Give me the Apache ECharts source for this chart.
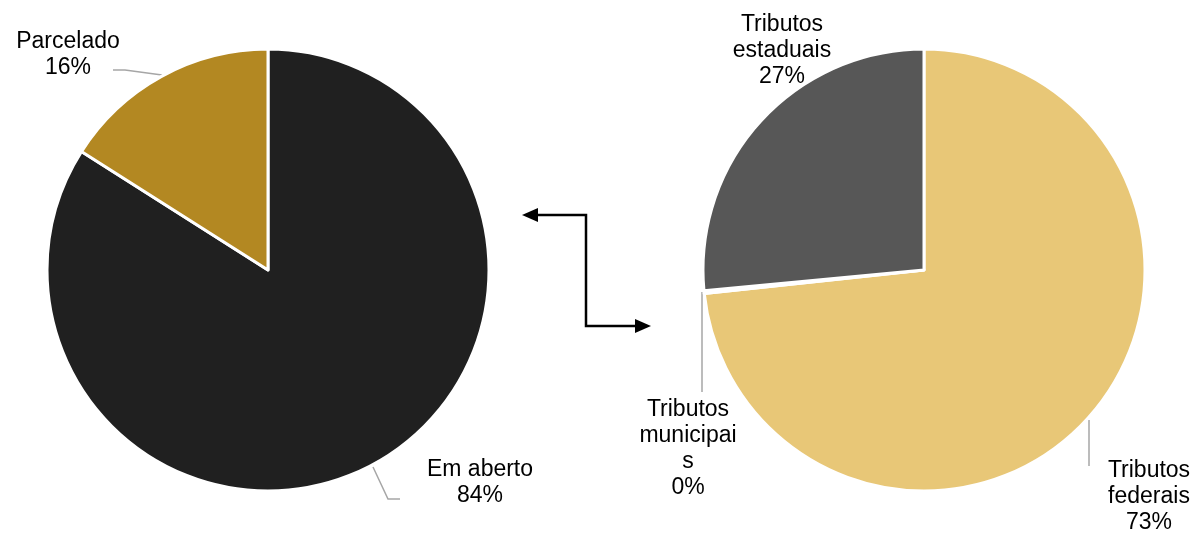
<!DOCTYPE html>
<html>
<head>
<meta charset="utf-8">
<script src="https://cdn.jsdelivr.net/npm/echarts@6/dist/echarts.min.js"></script>
<style>html,body{margin:0;padding:0;background:#fff;}#chart{width:1199px;height:535px;}</style>
</head>
<body>
<div id="chart"></div>
<script>
// Data
const leftCategories = ['Em aberto', 'Parcelado'];
const leftValues = [84, 16];
const rightCategories = ['Tributos federais', 'Tributos municipais', 'Tributos estaduais'];
const rightValues = [73.3, 0.2, 26.5];

// Label wrapping as in the reference
const wrappedNames = {
  'Em aberto': 'Em aberto',
  'Parcelado': 'Parcelado',
  'Tributos federais': 'Tributos\nfederais',
  'Tributos municipais': 'Tributos\nmunicipai\ns',
  'Tributos estaduais': 'Tributos\nestaduais'
};

// Label placement (style only)
const labelPlaces = [
  [ {x: 480, y: 483, line: [[373,467],[388,499],[400,499]]},
    {x: 68, y: 55, line: [[162,75],[125,70],[113,70]]} ],
  [ {x: 1149, y: 497, line: [[1089,420],[1089,443],[1089,466]]},
    {x: 688, y: 449, line: [[702,292],[702,342],[702,392]]},
    {x: 782, y: 51, line: null} ]
];

const chart = echarts.init(document.getElementById('chart'));
const labelStyle = {
  show: true,
  formatter: p => wrappedNames[p.name] + '\n' + p.percent + '%',
  fontFamily: 'Liberation Sans, Arial, sans-serif',
  fontSize: 23,
  lineHeight: 26,
  color: '#000',
  align: 'center'
};
const lineStyle = { show: true, lineStyle: { color: '#A6A6A6', width: 1.5 }, smooth: false };

function layoutFn(params) {
  const p = labelPlaces[params.seriesIndex][params.dataIndex];
  const r = { x: p.x, y: p.y, align: 'center', verticalAlign: 'middle' };
  if (p.line) r.labelLinePoints = p.line;
  return r;
}

chart.setOption({
  animation: false,
  series: [
    {
      type: 'pie',
      center: [268, 270],
      radius: 221,
      startAngle: 90,
      clockwise: true,
      percentPrecision: 0,
      avoidLabelOverlap: false,
      itemStyle: { borderColor: '#fff', borderWidth: 3 },
      label: labelStyle,
      labelLine: lineStyle,
      labelLayout: layoutFn,
      emphasis: { disabled: true },
      data: leftCategories.map((n, i) => ({
        name: n, value: leftValues[i],
        itemStyle: { color: ['#202020', '#B38822'][i] }
      }))
    },
    {
      type: 'pie',
      center: [924, 270],
      radius: 221,
      startAngle: 90,
      clockwise: true,
      percentPrecision: 0,
      avoidLabelOverlap: false,
      minShowLabelAngle: 0,
      itemStyle: { borderColor: '#fff', borderWidth: 3 },
      label: labelStyle,
      labelLine: lineStyle,
      labelLayout: layoutFn,
      emphasis: { disabled: true },
      data: rightCategories.map((n, i) => ({
        name: n, value: rightValues[i],
        itemStyle: { color: ['#E8C777', '#A5A5A5', '#575757'][i] },
        labelLine: i === 2 ? { show: false } : undefined
      }))
    }
  ],
  graphic: [
    { type: 'polyline', shape: { points: [[536,215],[586,215],[586,326],[637,326]] },
      style: { stroke: '#000', lineWidth: 2.5, fill: null } },
    { type: 'polygon', shape: { points: [[522,215],[538,208],[538,222]] }, style: { fill: '#000' } },
    { type: 'polygon', shape: { points: [[651,326],[635,319],[635,333]] }, style: { fill: '#000' } }
  ]
});
</script>
</body>
</html>
